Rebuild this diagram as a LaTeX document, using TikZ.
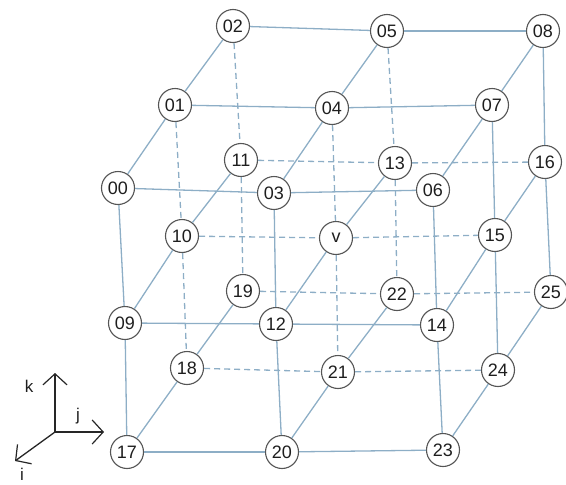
\documentclass[tikz,border=0pt]{standalone}
\usepackage{fontspec}
\setmainfont{Liberation Sans}
\usetikzlibrary{arrows.meta}
\definecolor{edgec}{HTML}{8DAEC6}
\definecolor{nodec}{HTML}{555555}
\definecolor{txtc}{HTML}{1E1E1E}
\begin{document}
\begin{tikzpicture}[x=1pt,y=-1pt,
  vx/.style={circle,draw=nodec,line width=1.1pt,fill=white,minimum size=33pt,inner sep=0pt,font=\fontsize{18}{18}\selectfont,text=txtc},
  ed/.style={draw=edgec,line width=1.3pt},
  hid/.style={ed,dash pattern=on 6pt off 4pt},
  axis/.style={draw=black!85,line width=1.3pt,-{Straight Barb[length=11pt,width=24pt,line width=1.2pt]}},
  albl/.style={font=\fontsize{17}{17}\selectfont,text=txtc,inner sep=1pt}]
\useasboundingbox (0,0) rectangle (566,485);
% top layer
\node[vx] (n00) at (118,188) {00};
\node[vx] (n01) at (175,105) {01};
\node[vx] (n02) at (233,26) {02};
\node[vx] (n03) at (274,193) {03};
\node[vx] (n04) at (332,108) {04};
\node[vx] (n05) at (387,31) {05};
\node[vx] (n06) at (433,190) {06};
\node[vx] (n07) at (492,105) {07};
\node[vx] (n08) at (543,31) {08};
% middle layer
\node[vx] (n09) at (125,323) {09};
\node[vx] (n10) at (182,236) {10};
\node[vx] (n11) at (241,160) {11};
\node[vx] (n12) at (276,324) {12};
\node[vx] (nv) at (336,238) {v};
\node[vx] (n13) at (395,163) {13};
\node[vx] (n14) at (437,325) {14};
\node[vx] (n15) at (495,235) {15};
\node[vx] (n16) at (545,162) {16};
% bottom layer
\node[vx] (n17) at (127,452) {17};
\node[vx] (n18) at (187,368) {18};
\node[vx] (n19) at (243,291) {19};
\node[vx] (n20) at (282,452) {20};
\node[vx] (n21) at (338,372) {21};
\node[vx] (n22) at (397,294) {22};
\node[vx] (n23) at (443,450) {23};
\node[vx] (n24) at (498,370) {24};
\node[vx] (n25) at (551,292) {25};
% solid edges
\foreach \a/\b in {00/01,01/02,02/05,05/08,01/04,04/07,00/03,03/06,03/04,04/05,06/07,07/08,
  00/09,03/12,06/14,07/15,08/16,
  09/10,10/11,12/v,v/13,14/15,15/16,09/12,12/14,
  09/17,12/20,14/23,15/24,16/25,
  17/18,18/19,20/21,21/22,23/24,24/25,17/20,20/23}
  \path[ed] (n\a) -- (n\b);
% hidden edges
\foreach \a/\b in {01/10,02/11,04/v,05/13,10/18,11/19,v/21,13/22,
  10/v,v/15,11/13,13/16,18/21,21/24,19/22,22/25}
  \path[hid] (n\a) -- (n\b);
% axes
\coordinate (o) at (55,432);
\coordinate (ak) at (55,373);
\coordinate (aj) at (104,432);
\coordinate (ai) at (15,461);
\draw[axis] (o) -- (ak);
\draw[axis] (o) -- (aj);
\draw[axis] (o) -- (ai);
\node[albl] (lk) at (29,386) {k};
\node[albl] (lj) at (78,416) {j};
\node[albl] (li) at (22,474) {i};
\end{tikzpicture}
\end{document}
